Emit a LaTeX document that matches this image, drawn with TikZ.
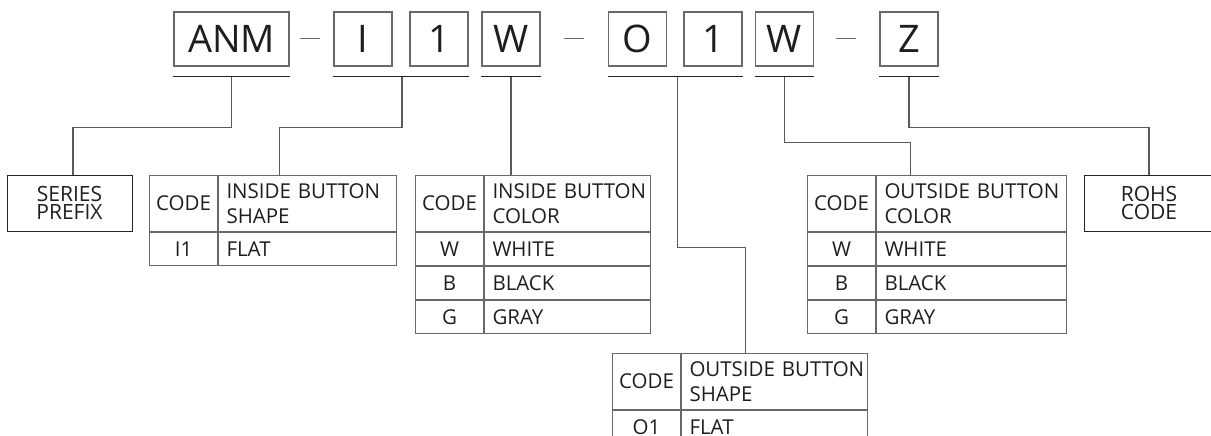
\documentclass[tikz,border=0pt]{standalone}
\usepackage{fontspec}
\setmainfont{Open Sans}
\usetikzlibrary{positioning,calc}
\definecolor{boxgray}{RGB}{105,105,105}
\definecolor{linedark}{RGB}{35,35,35}
\definecolor{textgray}{RGB}{30,30,30}
\newcommand{\bigfont}{\fontsize{38}{40}\selectfont}
\newcommand{\tabfont}{\fontsize{20.5}{24.5}\selectfont}
\newcommand{\tagfont}{\fontsize{21}{18.5}\selectfont}

\begin{document}
\begin{tikzpicture}[
    x=1pt, y=-1pt,
    letter/.style={draw=boxgray, line width=1.1pt, minimum height=54pt, minimum width=58pt, inner sep=0pt, text=textgray, font=\bigfont},
    tagbox/.style={draw=linedark, line width=1pt, minimum height=56pt, inner sep=0pt, align=center, text=textgray, font=\tagfont},
    codecell/.style={draw=boxgray, line width=1pt, minimum width=68pt, inner sep=0pt, align=center, text=textgray, font=\tabfont, anchor=north west},
    desccell/.style={draw=boxgray, line width=1pt, minimum width=#1, text width=#1-16pt, inner xsep=8pt, inner ysep=0pt, align=left, text=textgray, font=\tabfont, anchor=north west},
    hrow/.style={minimum height=56pt},
    brow/.style={minimum height=33pt},
    uline/.style={draw=linedark, line width=1.2pt},
    link/.style={draw=boxgray!85!black, line width=1.1pt},
    hyph/.style={draw=boxgray, line width=1pt}
]
  \useasboundingbox (0,0) rectangle (1211,436);
  \clip (0,0) rectangle (1211,436);

  \node[letter, minimum width=115pt] (anm) at (231.5,39) {ANM};
  \node[letter] (i) at (363,39) {I};
  \node[letter] (one) at (439,39) {1};
  \node[letter] (win) at (511,39) {W};
  \node[letter] (o) at (637.5,39) {O};
  \node[letter] (two) at (713,39) {1};
  \node[letter] (wout) at (784.5,39) {W};
  \node[letter] (z) at (909,39) {Z};

  \draw[hyph] ([xshift=10pt]anm.east) -- ([xshift=-13pt]i.west);
  \draw[hyph] ([xshift=23pt]win.east) -- ([xshift=-24pt]o.west);
  \draw[hyph] ([xshift=22pt]wout.east) -- ([xshift=-23pt]z.west);

  \draw[uline] ([yshift=-10pt]anm.south west) -- ([yshift=-10pt]anm.south east);
  \draw[uline] ([yshift=-10pt]i.south west) -- ([yshift=-10pt]one.south east);
  \draw[uline] ([yshift=-10pt]win.south west) -- ([yshift=-10pt]win.south east);
  \draw[uline] ([yshift=-10pt]o.south west) -- ([yshift=-10pt]two.south east);
  \draw[uline] ([yshift=-10pt]wout.south west) -- ([yshift=-10pt]wout.south east);
  \draw[uline] ([yshift=-10pt]z.south west) -- ([yshift=-10pt]z.south east);

  \coordinate (uanm) at ([yshift=-10pt]anm.south);
  \coordinate (ui1) at ($(i.south west)!0.5!(one.south east)+(1,10)$);
  \coordinate (uwin) at ([yshift=-10pt]win.south);
  \coordinate (uo1) at ($(o.south west)!0.5!(two.south east)+(2,10)$);
  \coordinate (uwout) at ([yshift=-10pt]wout.south);
  \coordinate (uz) at ([yshift=-10pt]z.south);

  \node[tagbox, minimum width=125pt] (series) at (69.5,203) {SERIES\\PREFIX};
  \node[tagbox, minimum width=130pt] (rohs) at (1149,203) {ROHS\\CODE};

  \node[codecell, hrow] (t1code) at (149,175) {CODE};
  \node[desccell=178pt, hrow] (t1desc) at (t1code.north east) {\mbox{INSIDE BUTTON}\\SHAPE};
  \node[codecell, brow] (t1c1) at (t1code.south west) {I1};
  \node[desccell=178pt, brow] (t1d1) at (t1c1.north east) {FLAT};

  \node[codecell, hrow] (t2code) at (415,175) {CODE};
  \node[desccell=166pt, hrow] (t2desc) at (t2code.north east) {\mbox{INSIDE BUTTON}\\COLOR};
  \node[codecell, brow] (t2c1) at (t2code.south west) {W};
  \node[desccell=166pt, brow] (t2d1) at (t2c1.north east) {WHITE};
  \node[codecell, brow] (t2c2) at (t2c1.south west) {B};
  \node[desccell=166pt, brow] (t2d2) at (t2c2.north east) {BLACK};
  \node[codecell, brow] (t2c3) at (t2c2.south west) {G};
  \node[desccell=166pt, brow] (t2d3) at (t2c3.north east) {GRAY};

  \node[codecell, hrow] (t3code) at (807,175) {CODE};
  \node[desccell=190pt, hrow] (t3desc) at (t3code.north east) {\mbox{OUTSIDE BUTTON}\\COLOR};
  \node[codecell, brow] (t3c1) at (t3code.south west) {W};
  \node[desccell=190pt, brow] (t3d1) at (t3c1.north east) {WHITE};
  \node[codecell, brow] (t3c2) at (t3c1.south west) {B};
  \node[desccell=190pt, brow] (t3d2) at (t3c2.north east) {BLACK};
  \node[codecell, brow] (t3c3) at (t3c2.south west) {G};
  \node[desccell=190pt, brow] (t3d3) at (t3c3.north east) {GRAY};

  \node[codecell, hrow] (t4code) at (612,353) {CODE};
  \node[desccell=186pt, hrow] (t4desc) at (t4code.north east) {\mbox{OUTSIDE BUTTON}\\SHAPE};
  \node[codecell, brow] (t4c1) at (t4code.south west) {O1};
  \node[desccell=186pt, brow] (t4d1) at (t4c1.north east) {FLAT};

  \draw[link] (uanm) -- ++(0,51) -| ([xshift=3.5pt]series.north);
  \draw[link] (ui1) -- ++(0,51) -| ([xshift=-28pt]t1desc.north);
  \draw[link] (uwin) -- (uwin |- t2desc.north);
  \draw[link] (uo1) -- ++(0,171) -| ([xshift=-29pt]t4desc.north);
  \draw[link] (uwout) -- ++(0,66) -| ([xshift=-61pt]t3desc.north);
  \draw[link] (uz) -- ++(0,51) -| (rohs.north);
\end{tikzpicture}
\end{document}
